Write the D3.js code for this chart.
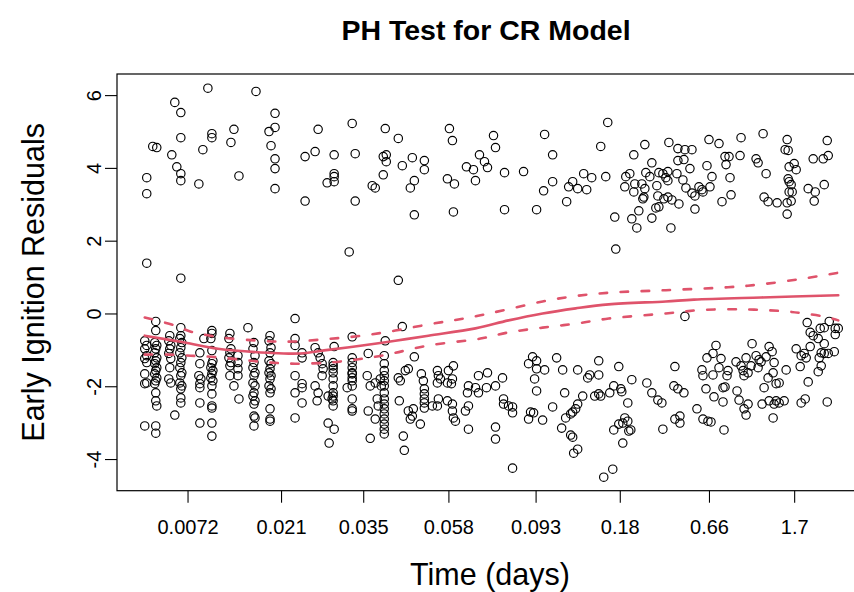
<!DOCTYPE html>
<html>
<head>
<meta charset="utf-8">
<script src="https://cdn.jsdelivr.net/npm/d3@7"></script>
<style>
  body { margin: 0; background: #ffffff; }
  svg { display: block; }
</style>
</head>
<body>
<svg id="svg-main" width="854" height="592"></svg>
<script>
// x = transformed event time (rank scale), y = scaled Schoenfeld residual
var upperPts = [
  [63,6.19],[111,6.10],[30,5.80],[36,5.52],[130,5.50],[36,4.83],[67,4.94],[67,4.83],[89,5.06],[86,4.70],
  [124,5.00],[130,5.11],[8,4.59],[12,4.56],[58,4.50],[27,4.36],[126,4.61],[32,4.03],[36,3.84],[36,3.65],
  [2,3.73],[2,3.29],[54,3.56],[94,3.78],[130,4.25],[130,3.98],[130,3.43],[2,1.38],[36,0.97],
  [173,5.06],[207,5.22],[240,5.08],[253,4.81],[304,5.08],[307,4.75],[160,4.31],[170,4.45],[189,4.36],[210,4.39],
  [238,4.31],[241,4.36],[241,4.17],[267,4.28],[279,4.20],[279,3.95],[257,4.06],[238,3.81],[189,3.84],[189,3.76],
  [189,3.62],[182,3.59],[227,3.51],[230,3.45],[269,3.65],[265,3.45],[302,3.70],[309,3.56],[321,4.03],[328,3.95],
  [330,3.65],[334,4.36],[160,3.09],[210,3.09],[269,2.71],[308,2.79],[204,1.69],[253,0.91],
  [348,4.89],[350,4.56],[339,4.17],[342,4.01],[359,3.87],[359,2.85],[378,3.90],[399,4.92],[407,4.36],[407,3.62],
  [398,3.37],[391,2.85],[421,3.07],[423,3.48],[427,3.62],[432,3.43],[438,3.84],[446,3.73],[441,3.40],[462,5.25],
  [455,4.59],[460,3.76],[469,2.65],[470,1.77],[480,3.76],[484,3.84],[479,3.48],[488,4.36],[499,4.64],[506,4.14],
  [500,3.87],[504,3.76],[513,3.87],[489,3.56],[488,3.34],[496,3.56],[499,3.43],[511,3.51],[512,3.23],[497,3.15],
  [498,3.20],[493,2.82],[486,2.60],[491,2.35],[506,2.62],[510,2.90],[513,2.93],[518,3.15],[523,4.70],
  [532,4.53],[539,4.50],[546,4.50],[532,4.20],[538,4.23],[544,3.98],[531,3.84],[522,3.90],[520,3.73],[522,3.65],
  [517,3.84],[537,3.67],[540,3.45],[546,3.31],[549,3.23],[553,3.48],[556,3.40],[557,3.34],[564,3.48],[566,3.76],
  [561,4.06],[563,4.78],[573,4.67],[579,4.31],[583,4.31],[580,4.09],[594,4.34],[595,4.83],[584,3.73],[585,3.26],
  [576,3.07],[549,2.87],[525,2.35],[522,3.20],[526,3.12],[533,3.01],[617,4.94],[610,4.25],[612,4.14],[620,3.84],
  [618,3.20],[622,3.07],[631,3.04],[641,3.04],[641,2.73],[645,3.09],[641,4.78],[639,4.50],[642,4.48],[643,4.03],
  [648,4.12],[650,3.95],[642,3.70],[643,3.62],[645,3.54],[646,3.34],[643,3.34],[667,4.25],[677,4.25],[682,4.34],
  [681,4.75],[678,3.54],[662,3.43],[669,3.34],[668,3.09]
];

var lowerPts = [
  [0,-0.75],[2,-0.88],[0,-0.97],[2,-1.16],[0,-1.24],[2,-1.35],[0,-1.66],[2,-1.91],[0,-1.93],[0,-3.09],
  [11,-0.22],[11,-0.47],[10,-0.80],[12,-0.88],[11,-0.97],[10,-1.08],[12,-1.22],[11,-1.30],[10,-1.38],[12,-1.49],
  [11,-1.57],[10,-1.66],[12,-1.77],[11,-1.85],[10,-1.93],[11,-2.18],[11,-2.40],[12,-2.54],[11,-3.09],[11,-3.29],
  [25,-0.61],[24,-0.75],[26,-0.88],[25,-0.97],[24,-1.10],[26,-1.24],[25,-1.49],[24,-1.80],[26,-1.91],[30,-2.79],
  [36,-0.39],[36,-0.61],[35,-0.69],[37,-0.80],[36,-0.94],[35,-1.08],[37,-1.22],[36,-1.35],[35,-1.49],[37,-1.63],
  [36,-1.71],[35,-1.91],[37,-1.99],[36,-2.07],[36,-2.32],[36,-2.46],
  [55,-1.08],[55,-1.38],[54,-1.71],[56,-1.80],[55,-1.93],[55,-2.04],[55,-2.46],[55,-3.01],[59,-0.69],
  [67,-0.47],[67,-0.55],[66,-0.69],[67,-1.02],[68,-1.30],[67,-1.38],[66,-1.49],[68,-1.57],[67,-1.66],[66,-1.77],
  [68,-1.85],[67,-1.99],[67,-2.21],[67,-2.54],[67,-2.60],[67,-3.01],[67,-3.37],
  [85,-0.55],[84,-0.69],[86,-0.97],[85,-1.08],[84,-1.22],[86,-1.35],[85,-1.44],[85,-1.71],[89,-1.99],[94,-2.35],
  [93,-1.16],[93,-1.35],[93,-1.52],[93,-1.71],[103,-0.39],
  [109,-0.80],[108,-0.97],[110,-1.16],[109,-1.35],[108,-1.49],[110,-1.63],[109,-1.71],[108,-1.91],[110,-1.99],[109,-2.18],
  [108,-2.27],[110,-2.40],[109,-2.49],[109,-2.82],[110,-2.87],[109,-3.09],
  [125,-0.61],[124,-0.75],[126,-0.94],[125,-1.08],[124,-1.30],[126,-1.38],[125,-1.52],[124,-1.63],[126,-1.71],[125,-1.80],
  [124,-1.99],[126,-2.07],[125,-2.18],[125,-2.62],[125,-2.90],[125,-2.96],
  [150,-0.14],[150,-0.69],[150,-0.88],[150,-1.71],[150,-2.18],[150,-2.87],
  [157,-1.08],[157,-1.22],[157,-1.93],[157,-2.04],[157,-2.46],
  [257,-0.36],[207,-0.64],[240,-0.75],[189,-0.91],
  [170,-0.94],[173,-1.08],[175,-1.22],[177,-1.38],[178,-1.52],[177,-1.71],[170,-1.99],[173,-2.18],[172,-2.40],
  [188,-1.35],[188,-1.44],[188,-1.52],[188,-1.63],[188,-1.80],[188,-1.99],[188,-2.18],[188,-2.27],[188,-2.40],[188,-2.54],
  [183,-2.27],[187,-2.35],[183,-3.01],[189,-3.18],[184,-3.56],
  [207,-1.22],[207,-1.35],[207,-1.49],[207,-1.63],[207,-1.66],[207,-1.77],[207,-1.85],[207,-1.99],[207,-2.35],[207,-2.62],
  [207,-2.68],[202,-2.04],
  [223,-1.10],[222,-1.71],[225,-1.99],[230,-1.91],[232,-2.35],[223,-2.68],[230,-2.90],[225,-3.43],
  [239,-1.16],[239,-1.38],[239,-1.57],[239,-1.71],[239,-1.85],[239,-1.99],[239,-2.18],[239,-2.35],[239,-2.49],[239,-2.62],
  [239,-2.76],[239,-2.90],[239,-3.04],[239,-3.18],[239,-3.31],
  [235,-1.80],[236,-1.99],[233,-2.54],
  [253,-1.77],[255,-1.85],[260,-1.57],[263,-1.52],[254,-2.40],[269,-1.19],
  [263,-2.68],[267,-2.82],[265,-2.90],[268,-2.62],[275,-3.04],[258,-3.37],[259,-3.76],
  [276,-1.66],[278,-1.85],[279,-2.07],[279,-2.21],[279,-2.35],[279,-2.46],[279,-2.60],
  [292,-1.57],[293,-1.71],[292,-1.91],[295,-1.80],
  [293,-2.35],[292,-2.54],[287,-2.54],[302,-2.40],[307,-2.49],[307,-2.68],[308,-2.87],[310,-2.96],
  [308,-1.44],[303,-1.57],[307,-1.80],[302,-1.91],[306,-1.93],
  [323,-1.99],[322,-2.18],[323,-2.54],[320,-2.68],[323,-3.18],[333,-1.71],[330,-2.04],[333,-2.18],
  [387,-1.19],[391,-1.30],[383,-1.38],[391,-1.52],[399,-1.55],[389,-1.80],[391,-2.13],
  [411,-1.22],[417,-1.55],[432,-1.55],
  [442,-1.77],[444,-1.69],[453,-1.69],[453,-1.30],[473,-1.46],[486,-1.82],[501,-1.91],
  [342,-1.63],[350,-1.99],[341,-2.04],[357,-1.77],
  [358,-2.35],[358,-2.49],[363,-2.54],[367,-2.57],[367,-2.73],
  [350,-3.12],[350,-3.45],[367,-4.25],
  [385,-2.71],[388,-2.73],[383,-2.90],[397,-2.93],[407,-2.57],
  [419,-2.18],[437,-2.27],[449,-2.27],[453,-2.21],[455,-2.27],[464,-2.18],[468,-1.99],[475,-2.07],[476,-2.15],[482,-2.46],
  [432,-2.49],[430,-2.62],[427,-2.71],[425,-2.76],[420,-2.87],[416,-3.15],[425,-3.34],[427,-3.40],[432,-3.73],[428,-3.84],
  [479,-2.87],[482,-2.96],[477,-3.01],[473,-3.04],[468,-3.20],[483,-3.23],[485,-3.20],[477,-3.56],[467,-4.28],[458,-4.50],
  [506,-2.18],[512,-2.38],[516,-2.46],[517,-3.18],
  [539,-0.08],
  [529,-1.46],[528,-1.99],[532,-2.07],[538,-2.18],
  [551,-2.62],[529,-2.90],[534,-2.82],[534,-3.01],
  [557,-2.90],[562,-2.96],[565,-2.98],[578,-3.20],
  [570,-0.88],[561,-1.22],[567,-1.10],[575,-1.24],[556,-1.55],[557,-1.71],[567,-1.69],[573,-1.49],[582,-1.57],[581,-1.71],
  [560,-2.07],[568,-2.29],[577,-2.04],[579,-2.02],[577,-2.43],
  [590,-1.33],[591,-2.13],[593,-2.38],[598,-2.62],[600,-2.79],[602,-2.49],
  [595,-1.44],[597,-1.57],[598,-1.71],[602,-1.63],[600,-1.22],[606,-0.83],
  [610,-1.16],[613,-1.27],[615,-1.33],[612,-1.49],[605,-1.44],
  [623,-0.91],[626,-1.05],[620,-1.19],[628,-1.35],[627,-1.63],[622,-1.77],[630,-1.93],[618,-2.04],[633,-1.91],[640,-1.55],
  [616,-2.49],[623,-2.40],[630,-2.40],[633,-2.46],[638,-2.40],[628,-2.49],[627,-2.87],
  [650,-0.97],[655,-1.16],[658,-1.10],[660,-1.22],[654,-1.46],[662,-1.88],[655,-2.46],[659,-2.35],[681,-2.43],
  [661,-0.25],[664,-0.52],[667,-0.61],[674,-0.41],[678,-0.39],[683,-0.22],[689,-0.41],[692,-0.41],[689,-0.58],[672,-0.69],
  [678,-0.83],[664,-0.91],[675,-1.08],[678,-1.10],[682,-1.10],[688,-1.05],[673,-1.22],[675,-1.44],[672,-1.60]
];

// smoothed beta(t) and its confidence band
var fitMid = [[0,-0.61],[40,-0.80],[73,-0.97],[123,-1.08],[155,-1.10],[183,-1.00],[217,-0.88],[250,-0.75],
  [283,-0.61],[330,-0.41],[363,-0.19],[397,0.00],[430,0.14],[463,0.25],[520,0.33],[548,0.38],[615,0.44],[692,0.50]];
var fitHi = [[0,-0.11],[30,-0.33],[46,-0.50],[63,-0.60],[83,-0.68],[110,-0.74],[130,-0.77],[150,-0.77],[183,-0.70],
  [217,-0.61],[250,-0.47],[283,-0.30],[310,-0.18],[335,-0.05],[363,0.12],[397,0.33],[430,0.48],[463,0.57],
  [520,0.64],[582,0.72],[615,0.80],[655,0.95],[692,1.12]];
var fitLo = [[0,-1.13],[23,-1.13],[46,-1.16],[66,-1.19],[86,-1.24],[106,-1.30],[126,-1.35],[150,-1.38],[183,-1.35],
  [210,-1.27],[230,-1.19],[250,-1.08],[283,-0.88],[335,-0.69],[363,-0.52],[397,-0.39],[430,-0.28],[463,-0.14],
  [520,0.00],[558,0.10],[602,0.11],[638,0.06],[658,0.00],[682,-0.11],[692,-0.19]];

var xTickVals = [42.7, 136, 218, 303, 390, 474, 563, 648];
var xTickLabels = ["0.0072", "0.021", "0.035", "0.058", "0.093", "0.18", "0.66", "1.7"];
var yTickVals = [-4, -2, 0, 2, 4, 6];

var box = {left: 117, top: 74, right: 866, bottom: 490.7};
var fontFam = "'Liberation Sans', Arial, Helvetica, sans-serif";
var red = "#DF536B";

var svg = d3.select("#svg-main");

var allT = upperPts.concat(lowerPts).map(function(d) { return d[0]; });
var ext = d3.extent(allT);
var pad = (ext[1] - ext[0]) * 0.04;

var x = d3.scaleLinear()
  .domain([ext[0] - pad, ext[1] + pad])
  .range([box.left, box.right]);

var y = d3.scaleLinear()
  .domain([-4.87, 6.58])
  .range([box.bottom, box.top]);

// points
svg.append("g")
  .selectAll("circle")
  .data(upperPts.concat(lowerPts))
  .enter()
  .append("circle")
  .attr("cx", function(d) { return x(d[0]); })
  .attr("cy", function(d) { return y(d[1]); })
  .attr("r", 4.2)
  .attr("fill", "none")
  .attr("stroke", "black")
  .attr("stroke-width", 1.15);

// fitted lines
var line = d3.line()
  .x(function(d) { return x(d[0]); })
  .y(function(d) { return y(d[1]); })
  .curve(d3.curveCatmullRom);

svg.append("path")
  .attr("d", line(fitMid))
  .attr("fill", "none")
  .attr("stroke", red)
  .attr("stroke-width", 2.6)
  .attr("stroke-linecap", "round");

[fitHi, fitLo].forEach(function(band) {
  svg.append("path")
    .attr("d", line(band))
    .attr("fill", "none")
    .attr("stroke", red)
    .attr("stroke-width", 2.6)
    .attr("stroke-linecap", "round")
    .attr("stroke-dasharray", "7.5,13.5");
});

// axes
var xAxis = svg.append("g")
  .attr("transform", "translate(0," + box.bottom + ")")
  .call(d3.axisBottom(x)
    .tickValues(xTickVals)
    .tickFormat(function(d, i) { return xTickLabels[i]; })
    .tickSize(12));

xAxis.select(".domain").remove();
xAxis.selectAll("line").attr("stroke", "black").attr("stroke-width", 1.1);
xAxis.selectAll("text")
  .attr("y", 43.3)
  .attr("dy", null)
  .attr("fill", "black")
  .style("font-family", fontFam)
  .style("font-size", "20px");

var yAxis = svg.append("g")
  .attr("transform", "translate(" + box.left + ",0)")
  .call(d3.axisLeft(y)
    .tickValues(yTickVals)
    .tickFormat(function(d) { return String(d); })
    .tickSize(12));

yAxis.select(".domain").remove();
yAxis.selectAll("line").attr("stroke", "black").attr("stroke-width", 1.1);
yAxis.selectAll("text")
  .attr("x", 0)
  .attr("y", -16)
  .attr("dy", null)
  .attr("transform", "rotate(-90)")
  .attr("text-anchor", "middle")
  .attr("fill", "black")
  .style("font-family", fontFam)
  .style("font-size", "20px");

// box
svg.append("rect")
  .attr("x", box.left)
  .attr("y", box.top)
  .attr("width", box.right - box.left)
  .attr("height", box.bottom - box.top)
  .attr("fill", "none")
  .attr("stroke", "black")
  .attr("stroke-width", 1.2);

// titles
svg.append("text")
  .attr("x", 486)
  .attr("y", 40)
  .attr("text-anchor", "middle")
  .style("font-family", fontFam)
  .style("font-weight", "bold")
  .style("font-size", "28.5px")
  .text("PH Test for CR Model");

svg.append("text")
  .attr("x", 490)
  .attr("y", 585)
  .attr("text-anchor", "middle")
  .style("font-family", fontFam)
  .style("font-size", "30.5px")
  .text("Time (days)");

svg.append("text")
  .attr("transform", "translate(44," + ((box.top + box.bottom) / 2) + ") rotate(-90)")
  .attr("text-anchor", "middle")
  .style("font-family", fontFam)
  .style("font-size", "30.5px")
  .text("Early Ignition Residuals");
</script>
</body>
</html>
